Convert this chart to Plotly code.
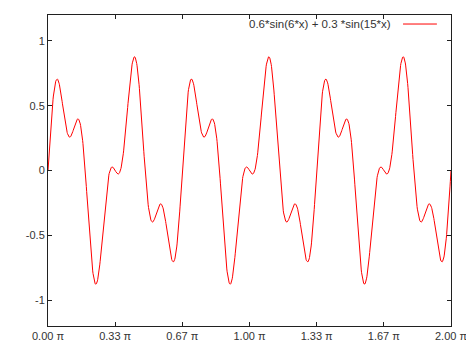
import numpy as np
import plotly.graph_objects as go

# Legend formula: 0.6*sin(6*x) + 0.3*sin(15*x)
amplitudes = [0.6, 0.3]
frequencies = [6, 15]
series_name = "0.6*sin(6*x) + 0.3 *sin(15*x)"

tick_vals = [0, np.pi/3, 2*np.pi/3, np.pi, 4*np.pi/3, 5*np.pi/3, 2*np.pi]
tick_text = ["0.00 π", "0.33 π", "0.67 π", "1.00 π", "1.33 π", "1.67 π", "2.00 π"]
ytick_vals = [-1, -0.5, 0, 0.5, 1]
ytick_text = ["-1", "-0.5", "0", "0.5", "1"]
x_range = [0, 2*np.pi]
y_range = [-1.2, 1.2]

x = np.linspace(x_range[0], x_range[1], 1200)
y = amplitudes[0]*np.sin(frequencies[0]*x) + amplitudes[1]*np.sin(frequencies[1]*x)

FRAME = "#202020"

fig = go.Figure()
fig.add_trace(go.Scatter(x=x, y=y, mode="lines", name=series_name,
                         line=dict(color="#ff0000", width=1), showlegend=False))

axis_common = dict(showgrid=False, zeroline=False, showline=True, mirror="ticks",
                   linecolor=FRAME, linewidth=1, ticks="inside", ticklen=4,
                   tickcolor=FRAME, tickwidth=1, automargin=False,
                   tickfont=dict(family="Liberation Sans, Arial", size=11, color="#333333"))

fig.update_layout(
    width=466, height=347,
    margin=dict(l=40, r=23, t=7, b=29, autoexpand=False),
    paper_bgcolor="white", plot_bgcolor="white",
    xaxis=dict(range=x_range, tickvals=tick_vals, ticktext=tick_text, **axis_common),
    yaxis=dict(range=y_range, tickvals=ytick_vals, ticktext=ytick_text, **axis_common),
)

fig.add_annotation(xref="paper", yref="paper", x=0.857, y=0.971, xanchor="right", yanchor="middle",
                   text=series_name, showarrow=False,
                   font=dict(family="Liberation Sans, Arial", size=11.5, color="#333333"))
fig.add_shape(type="line", xref="paper", yref="paper", x0=0.881, x1=0.965, y0=0.971, y1=0.971,
              line=dict(color="#ff0000", width=1))

fig.write_html("out.html")
